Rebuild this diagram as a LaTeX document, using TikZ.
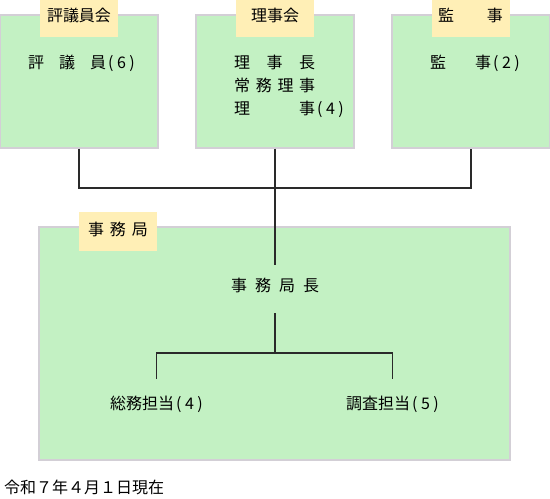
\documentclass[tikz,border=0pt]{standalone}
\usepackage{fontspec}
\setmainfont{Noto Sans CJK JP}
\usetikzlibrary{positioning}
\definecolor{boxgreen}{HTML}{C3F1C3}
\definecolor{rimgray}{HTML}{D3CFD6}
\definecolor{tabyellow}{HTML}{FFEFB6}
\definecolor{linegray}{HTML}{2A2A2A}
\newcommand{\cnt}[1]{\kern2pt(\kern3.5pt#1\kern3.5pt)}
\tikzset{
  panel/.style={fill=boxgreen,draw=rimgray,line width=1.2pt,minimum width=158pt,minimum height=133pt,inner sep=0pt},
  tab/.style={fill=tabyellow,draw=none,minimum width=78pt,inner sep=0pt,text height=23pt,text depth=16pt,font=\fontsize{16}{20}\selectfont},
  txt/.style={inner sep=0pt,font=\fontsize{16}{23}\selectfont},
  link/.style={linegray,line width=1.6pt},
}

\begin{document}
\begin{tikzpicture}[x=1pt,y=-1pt]
  \useasboundingbox (0,0) rectangle (550,499);
  % Kaesten
  \node[panel] (hyogi) at (79,81.5) {};
  \node[panel] (riji) at (275,81.5) {};
  \node[panel] (kanji) at (471,81.5) {};
  \node[panel,minimum width=471pt,minimum height=233pt] (jimu) at (274.5,343.5) {};
  \node[tab] (hyogitab) at (79,17.5) {評議員会};
  \node[tab] (rijitab) at (275,17.5) {理事会};
  \node[tab] (kanjitab) at (470.5,17.5) {\makebox[65pt]{監\hfill 事}};
  \node[tab] (jimutab) at (118,231.5) {\makebox[60pt]{事\hfill 務\hfill 局}};
  % Inhalte
  \node[txt,anchor=west] (hyogitxt) at (28,63) {\makebox[78pt]{評\hfill 議\hfill 員}\cnt{6}};
  \node[txt,anchor=west,align=left] (rijitxt) at (234,86) {\makebox[81pt]{理\hfill 事\hfill 長}\\\makebox[81pt]{常\hfill 務\hfill 理\hfill 事}\\\makebox[81pt]{理\hfill 事}\cnt{4}};
  \node[txt,anchor=west] (kanjitxt) at (430,63) {\makebox[61pt]{監\hfill 事}\cnt{2}};
  \node[txt,anchor=north,text height=26pt,text depth=22pt] (chief) at (275,265) {\makebox[88pt]{事\hfill 務\hfill 局\hfill 長}};
  \node[txt,anchor=north,text height=30pt,text depth=2pt] (soumu) at (156.5,379) {総務担当\cnt{4}};
  \node[txt,anchor=north,text height=30pt,text depth=2pt] (chosa) at (392.5,379) {調査担当\cnt{5}};
  \node[txt,anchor=west] (asof) at (4,487) {令和７年４月１日現在};
  % Verbindungen
  \coordinate (bus) at (275,188);
  \coordinate (split) at (275,353);
  \draw[link] (hyogi.south) |- (bus) -| (kanji.south);
  \draw[link] (riji.south) -- (chief.north);
  \draw[link] (chief.south) -- (split);
  \draw[link] (soumu.north) |- (split) -| (chosa.north);
\end{tikzpicture}
\end{document}
